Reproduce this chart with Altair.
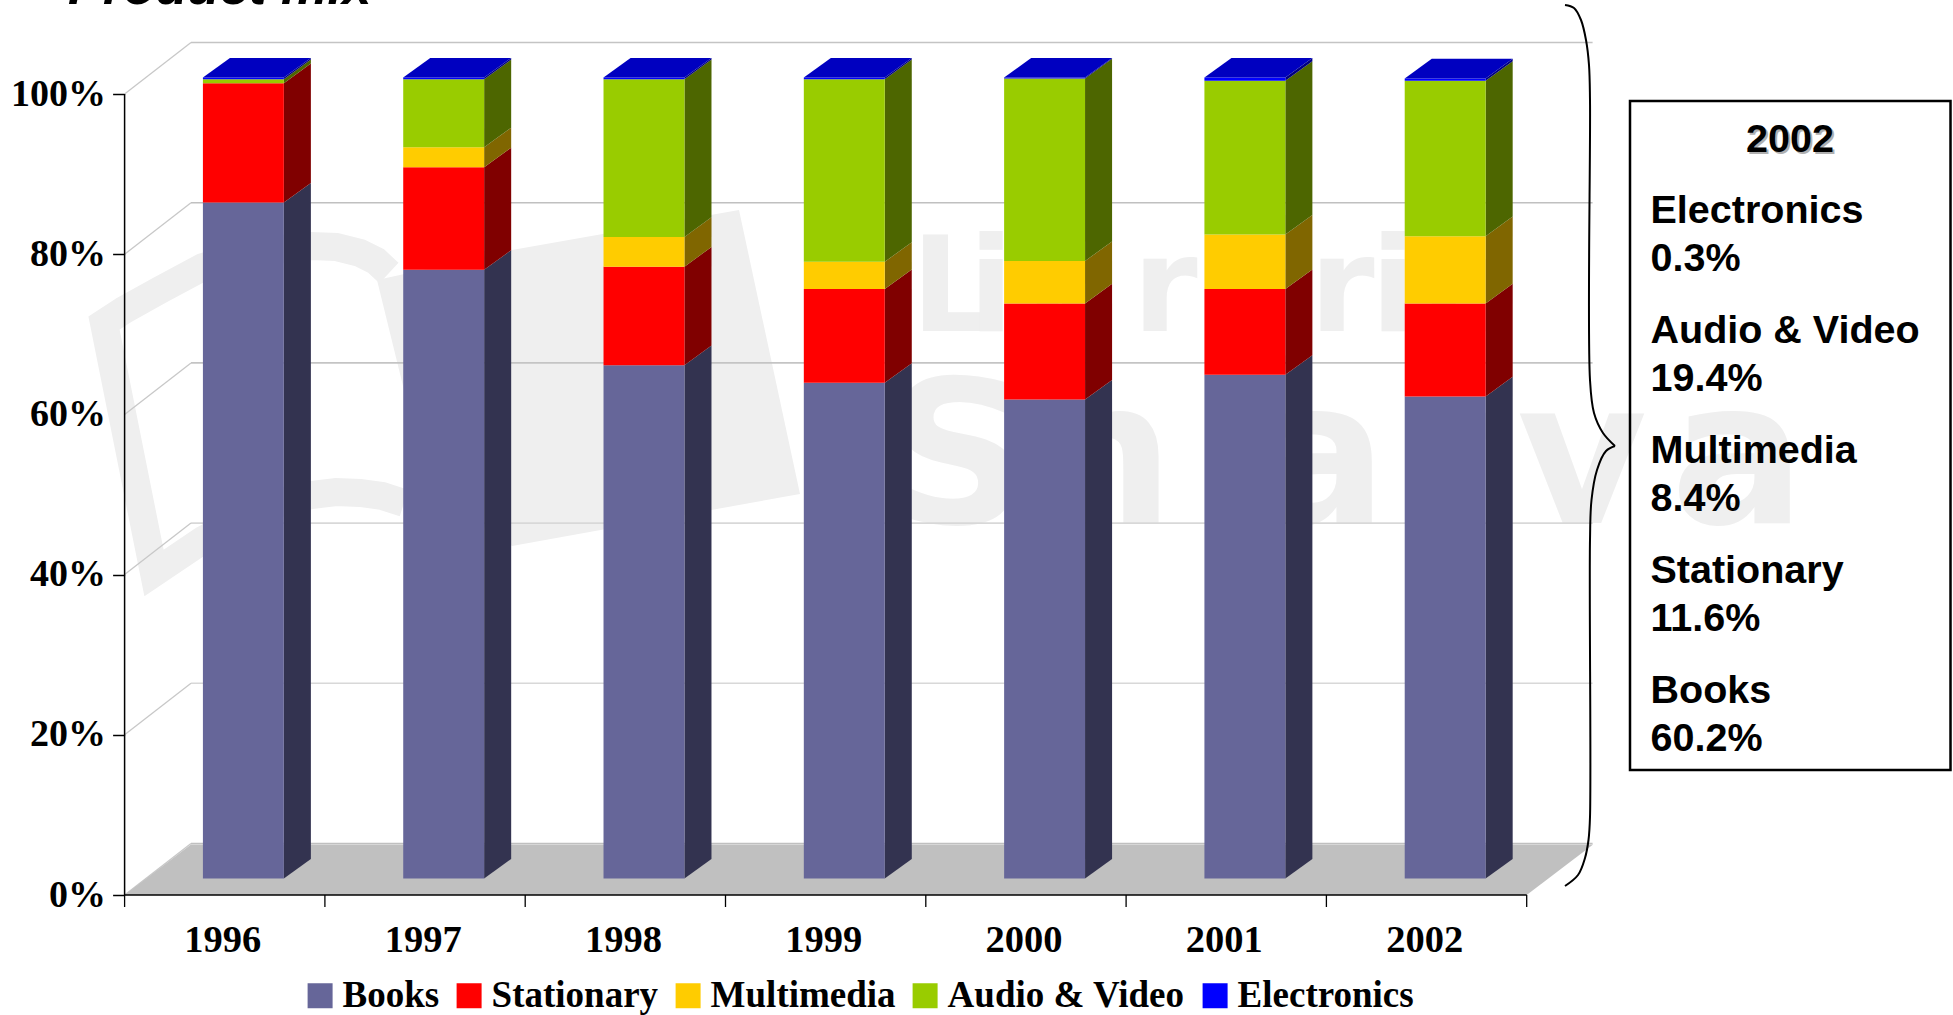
import altair as alt
import pandas as pd

# Product mix by year, percent of sales
YEARS = [1996, 1997, 1998, 1999, 2000, 2001, 2002]
SERIES = ["Books", "Stationary", "Multimedia", "Audio & Video", "Electronics"]
BOOKS = [84.4, 76.0, 64.1, 61.9, 59.8, 62.9, 60.2]
STATIONARY = [14.9, 12.8, 12.3, 11.7, 12.0, 10.7, 11.6]
MULTIMEDIA = [0.0, 2.5, 3.7, 3.4, 5.3, 6.8, 8.4]
AUDIO_VIDEO = [0.5, 8.5, 19.7, 22.8, 22.8, 19.2, 19.4]
ELECTRONICS = [0.2, 0.2, 0.2, 0.2, 0.1, 0.4, 0.3]
VALUES = [BOOKS, STATIONARY, MULTIMEDIA, AUDIO_VIDEO, ELECTRONICS]

FRONT = ["#666699", "#FF0000", "#FFCC00", "#99CC00", "#0000FF"]
SIDE = ["#333350", "#800000", "#806600", "#4D6600", "#000080"]
TOP = "#0000C0"
TICKS = [0, 20, 40, 60, 80, 100]
GRID_SHADE = ["#C0C0C0", "#D8D8D8", "#D8D8D8", "#C4C4C4", "#C0C0C0", "#C4C4C4"]

# Pseudo-3D geometry, in axis units
LEFT, TOP_PX, PLOT_W, PLOT_H = 124.6, 43.0, 1468.0, 852.0
XMAX, YMAX = 7.329, 106.37
WALL_DX, WALL_DY = 0.3315, 6.43
FLOOR_DY = 6.3
BAR_DX, BAR_DY = 0.135, 2.45
BAR_OFFSET, BAR_WIDTH, BAR_BASE = 0.391, 0.404, 2.05
UX, UY = PLOT_W / XMAX, PLOT_H / YMAX
LABEL_SHIFT = 0.012


def ax(px):
    return (px - LEFT) / UX


def ay(py):
    return (TOP_PX + PLOT_H - py) / UY


X_AXIS = alt.Axis(
    values=[i + 0.5 - LABEL_SHIFT for i in range(7)],
    labelExpr=f"format(1995.5 + {LABEL_SHIFT} + datum.value, 'd')",
    domain=False, grid=False, tickSize=0, title=None, labelPadding=26, labelFlush=False,
    labelOverlap=False, labelFont="Liberation Serif", labelFontWeight="bold", labelFontSize=38.5,
    labelColor="#000000", labelAngle=0,
)
Y_AXIS = alt.Axis(
    values=TICKS, labelExpr="datum.value + '%'", domain=False, grid=False, tickSize=12,
    tickColor="#000000", tickWidth=1.5, title=None, labelPadding=7, labelFlush=False,
    labelOverlap=False, labelFont="Liberation Serif", labelFontWeight="bold", labelFontSize=38,
    labelColor="#000000",
)
XS = alt.Scale(domain=[0, XMAX], nice=False, zero=False)
YS = alt.Scale(domain=[0, YMAX], nice=False, zero=False)


def X(field="x"):
    return alt.X(f"{field}:Q", scale=XS, axis=X_AXIS)


def Y(field="y"):
    return alt.Y(f"{field}:Q", scale=YS, axis=Y_AXIS)


def X2(field="x2"):
    return alt.X2(f"{field}:Q")


def Y2(field="y2"):
    return alt.Y2(f"{field}:Q")


# Faint bookshop watermark behind the plot
LOGO_PAGE = [(377, 280, 280), (428.5, 268.7, 490), (512, 250, 546), (739, 210, 505), (800, 494, 494)]
LOGO_EDGE = [(389, 273), (376, 261), (360, 253), (336, 247), (311, 246), (255, 252), (203, 267),
             (160, 290), (124, 310), (104, 323), (154, 573), (203, 540), (255, 512), (285, 501),
             (311, 495), (336, 492), (360, 493), (382, 496), (404, 503)]
WORD_TOP = [("L", 953), ("i", 991), ("v", 1060), ("r", 1165), ("a", 1250), ("r", 1342), ("i", 1393), ("a", 1470)]
WORD_BOTTOM = [("S", 957), ("h", 1103), ("a", 1320), ("r", 1460), ("v", 1582), ("a", 1738)]
WATERMARK = "#EFEFEF"

layers = []

page = pd.DataFrame([{"x": ax(a), "y": ay(b), "y2": ay(c)} for a, b, c in LOGO_PAGE])
layers.append(alt.Chart(page).mark_area(color=WATERMARK).encode(x=X(), y=Y(), y2=Y2()))

edge = pd.DataFrame([{"x": ax(a), "y": ay(b), "o": i} for i, (a, b) in enumerate(LOGO_EDGE)])
layers.append(
    alt.Chart(edge).mark_line(color=WATERMARK, strokeWidth=28, strokeJoin="miter", strokeCap="butt")
    .encode(x=X(), y=Y(), order="o:Q")
)

for letters, size, base in ((WORD_TOP, 132, 331), (WORD_BOTTOM, 200, 523)):
    word = pd.DataFrame([{"x": ax(a), "y": ay(base), "t": c} for c, a in letters])
    layers.append(
        alt.Chart(word).mark_text(font="DejaVu Sans", fontWeight="bold", fontSize=size, color=WATERMARK,
                                  align="center", baseline="alphabetic")
        .encode(x=X(), y=Y(), text="t:N")
    )

# Back wall gridlines and the slanted lines down the side wall
back = pd.DataFrame([
    {"x": WALL_DX, "x2": XMAX, "y": t + WALL_DY, "y2": t + WALL_DY, "c": c,
     "sx": 0.0, "sx2": WALL_DX, "sy": t, "sy2": t + WALL_DY}
    for t, c in zip(TICKS, GRID_SHADE)
])
layers.append(
    alt.Chart(back).mark_rule(strokeWidth=1.6)
    .encode(x=X(), x2=X2(), y=Y(), y2=Y2(), stroke=alt.Stroke("c:N", scale=None))
)
layers.append(
    alt.Chart(back).mark_rule(strokeWidth=1.3, color="#C8C8C8")
    .encode(x=X("sx"), x2=X2("sx2"), y=Y("sy"), y2=Y2("sy2"))
)

# Grey floor
floor = pd.DataFrame([
    {"x": 0.0, "y": 0.0, "y2": 0.0},
    {"x": WALL_DX, "y": 0.0, "y2": FLOOR_DY},
    {"x": 7.0, "y": 0.0, "y2": FLOOR_DY},
    {"x": 7.0 + WALL_DX, "y": FLOOR_DY, "y2": FLOOR_DY},
])
layers.append(alt.Chart(floor).mark_area(color="#C0C0C0").encode(x=X(), y=Y(), y2=Y2()))

# Axis lines and category ticks
axis_lines = pd.DataFrame([
    {"x": 0.0, "x2": 0.0, "y": 0.0, "y2": 100.0},
    {"x": 0.0, "x2": 7.0, "y": 0.0, "y2": 0.0},
])
layers.append(
    alt.Chart(axis_lines).mark_rule(color="#000000", strokeWidth=1.5)
    .encode(x=X(), x2=X2(), y=Y(), y2=Y2())
)
cat_ticks = pd.DataFrame([{"x": float(i), "y": 0.0, "y2": -12 / UY} for i in range(8)])
layers.append(
    alt.Chart(cat_ticks).mark_rule(color="#000000", strokeWidth=1.3)
    .encode(x=X(), y=Y(), y2=Y2())
)

# Stacked columns: side faces, front faces and a top face
fronts, sides, tops = [], [], []
for i, year in enumerate(YEARS):
    left = i + BAR_OFFSET
    right = left + BAR_WIDTH
    low = BAR_BASE
    for s, name in enumerate(SERIES):
        high = low + VALUES[s][i]
        fronts.append({"x": left, "x2": right, "y": low, "y2": high, "series": name})
        key = f"{year}-{name}"
        sides.append({"x": right, "y": low, "y2": high, "k": key, "c": SIDE[s]})
        sides.append({"x": right + BAR_DX, "y": low + BAR_DY, "y2": high + BAR_DY, "k": key, "c": SIDE[s]})
        low = high
    tops.extend([
        {"x": left, "y": low, "y2": low, "k": year},
        {"x": left + BAR_DX, "y": low, "y2": low + BAR_DY, "k": year},
        {"x": right, "y": low, "y2": low + BAR_DY, "k": year},
        {"x": right + BAR_DX, "y": low + BAR_DY, "y2": low + BAR_DY, "k": year},
    ])

layers.append(
    alt.Chart(pd.DataFrame(sides)).mark_area()
    .encode(x=X(), y=Y(), y2=Y2(), detail="k:N", fill=alt.Fill("c:N", scale=None))
)
layers.append(
    alt.Chart(pd.DataFrame(fronts)).mark_rect()
    .encode(
        x=X(), x2=X2(), y=Y(), y2=Y2(),
        color=alt.Color(
            "series:N",
            scale=alt.Scale(domain=SERIES, range=FRONT),
            legend=alt.Legend(
                orient="none", legendX=177, legendY=934, direction="horizontal", title=None,
                symbolType="square", symbolSize=625, symbolStrokeWidth=0, symbolOpacity=1,
                labelFont="Liberation Serif", labelFontWeight="bold", labelFontSize=37,
                labelColor="#000000", labelOffset=4, columnPadding=11, padding=0, labelLimit=400,
            ),
        ),
    )
)
layers.append(
    alt.Chart(pd.DataFrame(tops)).mark_area(color=TOP)
    .encode(x=X(), y=Y(), y2=Y2(), detail="k:N")
)

# Slide heading, cut off by the top edge of the page
heading = pd.DataFrame([{"x": ax(68), "y": ay(4), "t": "Product mix"}])
layers.append(
    alt.Chart(heading).mark_text(font="Liberation Sans", fontWeight="bold", fontStyle="italic",
                                 fontSize=52.5, align="left", baseline="alphabetic", color="#000000")
    .encode(x=X(), y=Y(), text="t:N")
)

# Curly brace tying the chart to the 2002 call-out
BRACE_UPPER = [(1565, 5), (1574, 8), (1581, 20), (1586, 40), (1589, 65), (1590, 100), (1590, 380),
               (1594, 413), (1603, 433), (1615, 446)]
BRACE_LOWER = [(1615, 446), (1606, 451), (1597, 470), (1591.5, 500), (1590, 540), (1590, 817),
               (1588.5, 840), (1585, 858), (1578, 875), (1565, 886)]
brace = pd.DataFrame(
    [{"x": ax(a), "y": ay(b), "o": i, "k": "u"} for i, (a, b) in enumerate(BRACE_UPPER)]
    + [{"x": ax(a), "y": ay(b), "o": i, "k": "l"} for i, (a, b) in enumerate(BRACE_LOWER)]
)
layers.append(
    alt.Chart(brace).mark_line(color="#000000", strokeWidth=2, interpolate="catmull-rom")
    .encode(x=X(), y=Y(), order="o:Q", detail="k:N")
)

# Call-out box listing the 2002 shares, top of the stack first
box = pd.DataFrame([{"x": ax(1630), "x2": ax(1950.5), "y": ay(101), "y2": ay(770)}])
layers.append(
    alt.Chart(box).mark_rect(fill="transparent", stroke="#000000", strokeWidth=2.5)
    .encode(x=X(), x2=X2(), y=Y(), y2=Y2())
)
for dx, dy, colour in ((2, 2, "#B0B0B0"), (0, 0, "#000000")):
    head = pd.DataFrame([{"x": ax(1790 + dx), "y": ay(151.5 + dy), "t": str(YEARS[-1])}])
    layers.append(
        alt.Chart(head).mark_text(font="Liberation Sans", fontWeight="bold", fontSize=39.5, align="center",
                                  baseline="alphabetic", color=colour)
        .encode(x=X(), y=Y(), text="t:N")
    )
rows = []
BOX_BASELINES = [(222.5, 271), (342.5, 390.5), (462.5, 511), (582.5, 631), (702.5, 750.5)]
for s, (b1, b2) in zip(range(4, -1, -1), BOX_BASELINES):
    rows.append({"x": ax(1650.5), "y": ay(b1), "t": SERIES[s]})
    rows.append({"x": ax(1650.5), "y": ay(b2), "t": f"{VALUES[s][-1]}%"})
layers.append(
    alt.Chart(pd.DataFrame(rows)).mark_text(font="Liberation Sans", fontWeight="bold", fontSize=39.5,
                                            align="left", baseline="alphabetic", color="#000000")
    .encode(x=X(), y=Y(), text="t:N")
)

chart = (
    alt.layer(*layers)
    .properties(
        width=PLOT_W, height=PLOT_H, background="#FFFFFF",
        padding={"left": LEFT, "top": TOP_PX, "right": 1953 - LEFT - PLOT_W, "bottom": 1015 - TOP_PX - PLOT_H},
        autosize=alt.AutoSizeParams(type="none"),
    )
    .configure_view(stroke=None)
)
chart.save("out.html", embed_options={"renderer": "svg", "actions": False})
